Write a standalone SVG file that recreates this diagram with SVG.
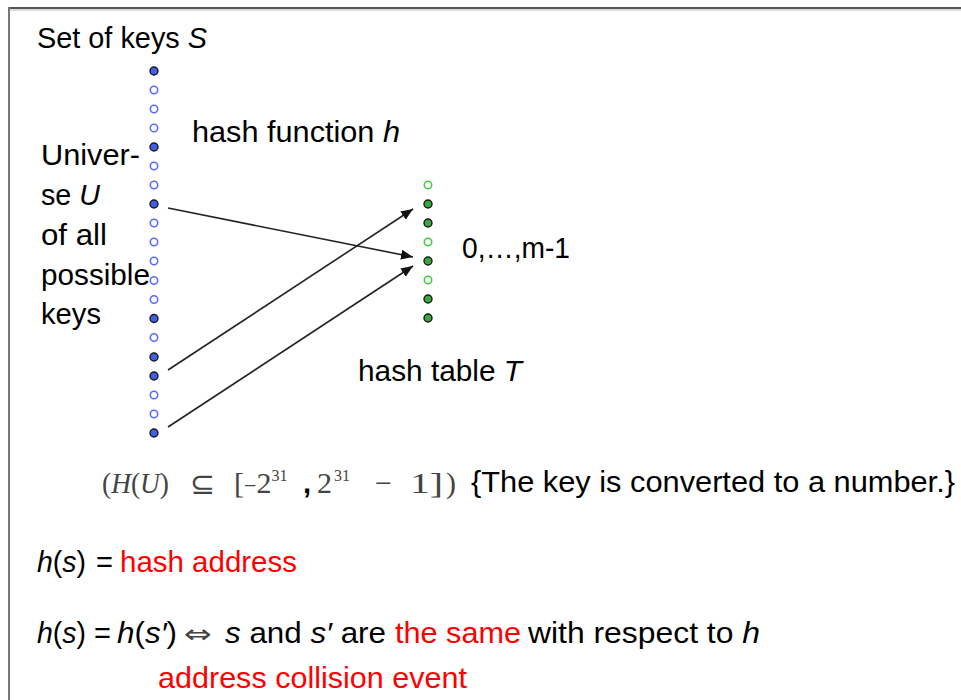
<svg xmlns="http://www.w3.org/2000/svg" width="961" height="700" viewBox="0 0 961 700">
<style>
.t{font-family:"Liberation Sans",Arial,sans-serif;font-size:29px;fill:#000}
.i{font-style:italic}
.red{fill:#ff0000}
.m{font-family:"Liberation Serif","DejaVu Serif",serif;font-size:30px;fill:#444}
.sym{font-family:"DejaVu Sans",sans-serif;fill:#444}
.sup{font-size:16px}
.ko{fill:#fff;stroke:#5b6cff;stroke-width:1.6}
.kf{fill:#3f5fe8;stroke:#1a1a1a;stroke-width:1.4}
.go{fill:#fff;stroke:#44cc44;stroke-width:1.6}
.gf{fill:#39a83c;stroke:#1a1a1a;stroke-width:1.4}
.conn line{stroke:#222;stroke-width:1.6;marker-end:url(#ah)}
</style>
<defs>
<marker id="ah" markerUnits="userSpaceOnUse" markerWidth="12" markerHeight="10" refX="12" refY="5" orient="auto">
<path d="M0,0 L12,5 L0,10 z" fill="#111"/>
</marker>
</defs>
<rect width="961" height="700" fill="#fff"/>
<g id="frame">
<line x1="9" y1="8" x2="961" y2="8" stroke="#555" stroke-width="2"/>
<line x1="9" y1="10" x2="961" y2="10" stroke="#ddd" stroke-width="2"/>
<line x1="9" y1="7" x2="9" y2="700" stroke="#777" stroke-width="2"/>
</g>
<g id="universe">
<circle class="kf" cx="154" cy="71" r="4"/>
<circle class="ko" cx="154" cy="90" r="3.7"/>
<circle class="ko" cx="154" cy="109" r="3.7"/>
<circle class="ko" cx="154" cy="128" r="3.7"/>
<circle class="kf" cx="154" cy="147" r="4"/>
<circle class="ko" cx="154" cy="166" r="3.7"/>
<circle class="ko" cx="154" cy="185" r="3.7"/>
<circle class="kf" cx="154" cy="204" r="4"/>
<circle class="ko" cx="154" cy="223" r="3.7"/>
<circle class="ko" cx="154" cy="242" r="3.7"/>
<circle class="ko" cx="154" cy="261" r="3.7"/>
<circle class="ko" cx="154" cy="280.5" r="3.7"/>
<circle class="ko" cx="154" cy="299.5" r="3.7"/>
<circle class="kf" cx="154" cy="318.5" r="4"/>
<circle class="ko" cx="154" cy="337.5" r="3.7"/>
<circle class="kf" cx="154" cy="357" r="4"/>
<circle class="kf" cx="154" cy="376" r="4"/>
<circle class="ko" cx="154" cy="395" r="3.7"/>
<circle class="ko" cx="154" cy="414" r="3.7"/>
<circle class="kf" cx="154" cy="433" r="4"/>
</g>
<g id="hash-table">
<circle class="go" cx="428" cy="185" r="3.7"/>
<circle class="gf" cx="428" cy="204" r="4"/>
<circle class="gf" cx="428" cy="223" r="4"/>
<circle class="go" cx="428" cy="242" r="3.7"/>
<circle class="gf" cx="428" cy="261" r="4"/>
<circle class="go" cx="428" cy="280" r="3.7"/>
<circle class="gf" cx="428" cy="299" r="4"/>
<circle class="gf" cx="428" cy="318" r="4"/>
</g>
<g class="conn" id="connectors">
<line x1="168" y1="208" x2="413" y2="257"/>
<line x1="168" y1="370" x2="413" y2="209"/>
<line x1="168" y1="427" x2="413" y2="266"/>
</g>
<g id="labels">
<text class="t" x="37" y="48" textLength="170" lengthAdjust="spacingAndGlyphs">Set of keys <tspan class="i">S</tspan></text>
<text class="t" x="192" y="142" textLength="208" lengthAdjust="spacingAndGlyphs">hash function <tspan class="i">h</tspan></text>
<text class="t" x="41" y="165" textLength="99" lengthAdjust="spacingAndGlyphs">Univer-</text>
<text class="t" x="41" y="205" textLength="59" lengthAdjust="spacingAndGlyphs">se <tspan class="i">U</tspan></text>
<text class="t" x="41" y="245" textLength="66" lengthAdjust="spacingAndGlyphs">of all</text>
<text class="t" x="41" y="285" textLength="109" lengthAdjust="spacingAndGlyphs">possible</text>
<text class="t" x="41" y="324" textLength="60" lengthAdjust="spacingAndGlyphs">keys</text>
<text class="t" x="462" y="258" textLength="108" lengthAdjust="spacingAndGlyphs">0,…,m-1</text>
<text class="t" x="358" y="381" textLength="164" lengthAdjust="spacingAndGlyphs">hash table <tspan class="i">T</tspan></text>
</g>
<g id="range">
<text class="m" x="102" y="493" textLength="67" lengthAdjust="spacingAndGlyphs">(<tspan class="i">H</tspan>(<tspan class="i">U</tspan>)</text>
<text class="sym" x="190" y="494" font-size="30">⊆</text>
<text class="m" x="234" y="493">[<tspan font-size="22">−</tspan>2<tspan class="sup" dy="-12">31</tspan></text>
<text class="t" x="303" y="493" font-weight="bold" font-size="31" fill="#444">,</text>
<text class="m" x="317" y="493">2<tspan class="sup" dx="2" dy="-12">31</tspan></text>
<text class="m" x="375" y="493">−</text>
<text class="m" x="410" y="493" textLength="33" lengthAdjust="spacingAndGlyphs">1]</text>
<text class="m" x="446" y="493">)</text>
<text class="t" x="471" y="492" textLength="484" lengthAdjust="spacingAndGlyphs">{The key is converted to a number.}</text>
</g>
<g id="definitions">
<text class="t" x="37" y="572" textLength="49" lengthAdjust="spacingAndGlyphs"><tspan class="i">h</tspan>(<tspan class="i">s</tspan>)</text>
<text class="t" x="96" y="572">=</text>
<text class="t red" x="120" y="572" textLength="177" lengthAdjust="spacingAndGlyphs">hash address</text>
<text class="t" x="37" y="643" textLength="49" lengthAdjust="spacingAndGlyphs"><tspan class="i">h</tspan>(<tspan class="i">s</tspan>)</text>
<text class="t" x="94" y="643">=</text>
<text class="t" x="117" y="643" textLength="60" lengthAdjust="spacingAndGlyphs"><tspan class="i">h</tspan>(<tspan class="i">s′</tspan>)</text>
<text class="sym" x="184" y="643" font-size="26" fill="#000" textLength="28" lengthAdjust="spacingAndGlyphs">⇔</text>
<text class="t" x="225" y="643" textLength="161" lengthAdjust="spacingAndGlyphs"><tspan class="i">s</tspan> and <tspan class="i">s′</tspan> are</text>
<text class="t red" x="395" y="643" textLength="126" lengthAdjust="spacingAndGlyphs">the same</text>
<text class="t" x="528" y="643" textLength="232" lengthAdjust="spacingAndGlyphs">with respect to <tspan class="i">h</tspan></text>
<text class="t red" x="158" y="688" textLength="309" lengthAdjust="spacingAndGlyphs">address collision event</text>
</g>
</svg>
